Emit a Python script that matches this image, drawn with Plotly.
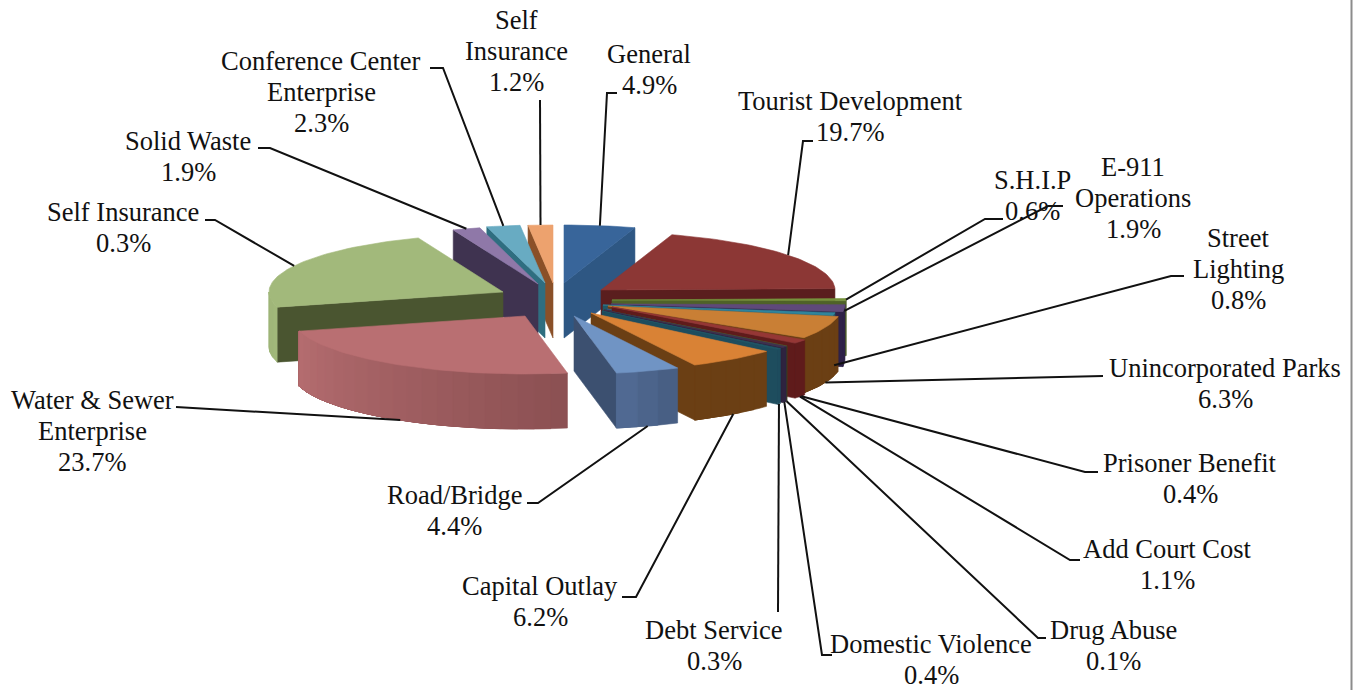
import math
import plotly.graph_objects as go

# ---- data, clockwise from 12 o'clock ----
fund_names = ["General", "Tourist Development", "S.H.I.P", "E-911<br>Operations", "Street<br>Lighting",
              "Unincorporated Parks", "Prisoner Benefit", "Add Court Cost", "Drug Abuse", "Domestic Violence",
              "Debt Service", "Capital Outlay", "Road/Bridge", "Water & Sewer<br>Enterprise", "Self Insurance",
              "Solid Waste", "Conference Center<br>Enterprise", "Self<br>Insurance"]
printed_pct = ["4.9%", "19.7%", "0.6%", "1.9%", "0.8%", "6.3%", "0.4%", "1.1%", "0.1%", "0.4%", "0.3%",
               "6.2%", "4.4%", "23.7%", "0.3%", "1.9%", "2.3%", "1.2%"]
# slice sizes as drawn in the picture (printed labels do not add to 100)
drawn_share = [4.9, 19.7, 0.6, 1.9, 0.8, 6.3, 0.4, 1.1, 0.1, 0.4, 0.3, 6.2, 4.4, 23.7, 23.3, 1.9, 2.3, 1.7]

# ---- styles ----
top_col = ["#38659A", "#8C3735", "#76923C", "#5F497A", "#31859C", "#C97F35", "#3F5F8C", "#953735", "#4F6228",
           "#3F3151", "#205867", "#D98235", "#7094C4", "#B96F72", "#A2B97B", "#8F78A8", "#68ABC2", "#EDA26E"]
cut_col = ["#2E5783", "#5A1E1E", "#4F6228", "#2E2148", "#205867", "#6B3F14", "#234060", "#5F1B1B", "#38481C",
           "#2E2340", "#1E4D5E", "#6B3F14", "#3C5070", "#8B5052", "#4A5530", "#3F3350", "#2F6E80", "#8A5028"]
arc_a = ["#2E5783", "#5A1E1E", "#4F6228", "#2E2148", "#205867", "#6B3F14", "#234060", "#5F1B1B", "#38481C",
         "#2E2340", "#1E4D5E", "#6B3F14", "#465C80", "#8B5052", "#A2B97B", "#3F3350", "#2F6E80", "#8A5028"]
arc_b = ["#2E5783", "#5A1E1E", "#4F6228", "#2E2148", "#205867", "#6B3F14", "#234060", "#5F1B1B", "#38481C",
         "#2E2340", "#1E4D5E", "#6B3F14", "#526C96", "#B56D70", "#9DB477", "#3F3350", "#2F6E80", "#8A5028"]

# ---- layout: pie projection, explosion of each slice, labels and leader elbows (pixels) ----
W, H = 1361, 690
RX, RY, DEPTH = 234, 58, 55
LINE_STEP = 31
hub_x = [564, 601, 612, 611, 603, 608, 607, 612, 604, 604, 602, 591, 574, 525, 503, 538, 545, 553]
hub_y = [283, 290, 300, 304, 305, 306, 309, 307, 310, 310, 311, 313, 316, 316, 292, 284, 283, 283]
label_x = [649, 850, 1032, 1133, 1238, 1225, 1190, 1167, 1113, 931, 714, 540, 454, 92, 123, 188, 321, 516]
label_y = [69, 116, 195, 198, 269, 383, 478, 564, 645, 659, 645, 601, 510, 431, 227, 156, 92, 51]
anchor_drop = [0, 0, 0, 0.05, 0.93, 1, 1, 1, 1, 1, 1, 1, 1, 1, 0, 0, 0, 0]
elbows = [[(607, 93), (617, 93)], [(803, 141), (813, 141)], [(985, 219), (1003, 219)], [(1048, 206), (1063, 206)],
          [(1171, 276), (1184, 276)], [(1090, 376), (1103, 376)], [(1085, 472), (1098, 472)],
          [(1070, 560), (1080, 560)], [(1038, 638), (1046, 638)], [(822, 655), (832, 655)], [(778, 612)],
          [(636, 597), (622, 597)], [(538, 503), (527, 503)], [(183, 407), (176, 407)],
          [(215, 220), (205, 220)], [(270, 148), (258, 148)], [(443, 68), (430, 68)], [(540, 100)]]
PAINT_ORDER = [17, 16, 15, 14, 13, 0, 1, 2, 3, 4, 5, 6, 7, 8, 9, 10, 11, 12]


def hex_mix(a, b, t):
    ca = [int(a[i:i + 2], 16) for i in (1, 3, 5)]
    cb = [int(b[i:i + 2], 16) for i in (1, 3, 5)]
    return "rgb(%d,%d,%d)" % tuple(round(p + (q - p) * t) for p, q in zip(ca, cb))


def rim(i, deg):
    r = math.radians(deg)
    return hub_x[i] + RX * math.sin(r), hub_y[i] - RY * math.cos(r)


def poly(fig, pts, color, lw=0.6):
    xs = [p[0] for p in pts] + [pts[0][0]]
    ys = [p[1] for p in pts] + [pts[0][1]]
    fig.add_trace(go.Scatter(x=xs, y=ys, mode="lines", fill="toself", fillcolor=color,
                             line=dict(color=color, width=lw), hoverinfo="skip", showlegend=False))


total = sum(drawn_share)
edges = [0.0]
for s in drawn_share:
    edges.append(edges[-1] + s / total * 360)

fig = go.Figure()

for i in PAINT_ORDER:
    a0, a1 = edges[i], edges[i + 1]
    hub = (hub_x[i], hub_y[i])
    # radial cut faces
    for deg, visible in ((a0, math.sin(math.radians(a0)) < -1e-6), (a1, math.sin(math.radians(a1)) > 1e-6)):
        if visible:
            p = rim(i, deg)
            poly(fig, [hub, p, (p[0], p[1] + DEPTH), (hub[0], hub[1] + DEPTH)], cut_col[i])
    # outer wall, only the part turned to the viewer: painted from one end with overlapping bands
    lo, hi = max(a0, 90), min(a1, 270)
    if hi > lo:
        n = max(1, int((hi - lo) / 4))
        for k in range(n):
            d0 = lo + (hi - lo) * k / n
            pts_top = [rim(i, d0 + (hi - d0) * j / 24) for j in range(25)]
            pts_low = [(x, y + DEPTH) for x, y in reversed(pts_top)]
            poly(fig, pts_top + pts_low, hex_mix(arc_a[i], arc_b[i], (k + 0.5) / n))
    # top face
    n = max(2, int((a1 - a0) / 1.5))
    poly(fig, [hub] + [rim(i, a0 + (a1 - a0) * k / n) for k in range(n + 1)], top_col[i])

# leaders and labels
for i, name in enumerate(fund_names):
    ax, ay = rim(i, (edges[i] + edges[i + 1]) / 2)
    ay += anchor_drop[i] * DEPTH
    pts = [(ax, ay)] + elbows[i]
    fig.add_trace(go.Scatter(x=[p[0] for p in pts], y=[p[1] for p in pts], mode="lines",
                             line=dict(color="#111111", width=2), hoverinfo="skip", showlegend=False))
    lines = name.split("<br>") + [printed_pct[i]]
    for j, line in enumerate(lines):
        fig.add_annotation(x=label_x[i], y=label_y[i] + (j - (len(lines) - 1) / 2) * LINE_STEP,
                           xref="x", yref="y", text=line, showarrow=False,
                           xanchor="center", yanchor="middle", align="center",
                           font=dict(family="Liberation Serif", size=26.5, color="#111111"))

fig.add_shape(type="line", x0=1351.5, x1=1351.5, y0=0, y1=H, xref="x", yref="y",
              line=dict(color="#8C8C8C", width=2))

fig.update_layout(width=W, height=H, margin=dict(l=0, r=0, t=0, b=0), paper_bgcolor="white", plot_bgcolor="white",
                  showlegend=False,
                  xaxis=dict(range=[0, W], visible=False, fixedrange=True),
                  yaxis=dict(range=[H, 0], visible=False, fixedrange=True))
fig.write_html("out.html", post_script="document.body.style.margin='0';document.body.style.overflow='hidden';",
               config={"displayModeBar": False})
